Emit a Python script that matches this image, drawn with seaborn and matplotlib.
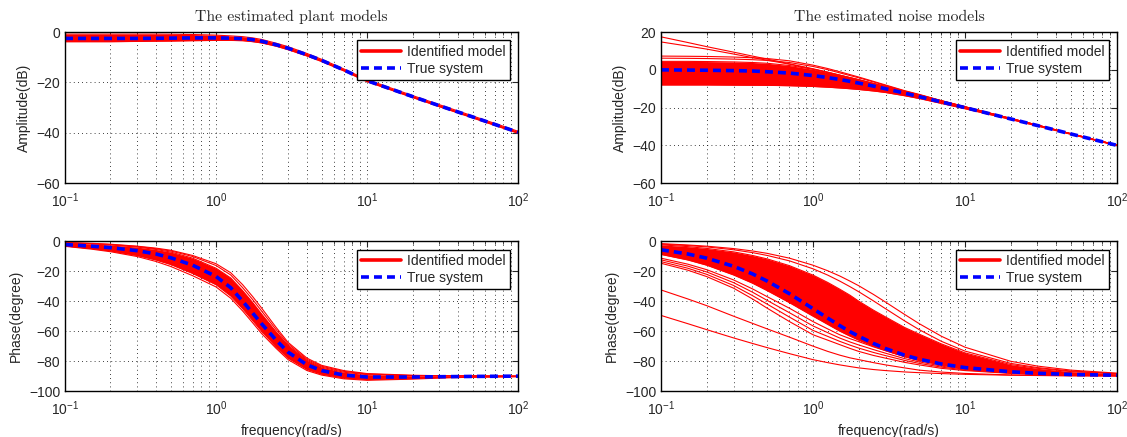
import numpy as np
import pandas as pd
import matplotlib
matplotlib.use("Agg")
import matplotlib.pyplot as plt
import seaborn as sns
from matplotlib.lines import Line2D

sns.set_style("white")
plt.rcParams['font.family'] = ['Liberation Sans', 'DejaVu Sans']
plt.rcParams['mathtext.fontset'] = 'custom'
plt.rcParams['mathtext.rm'] = 'Liberation Sans'
plt.rcParams['mathtext.it'] = 'Liberation Sans:italic'

freq = [0.1, 0.15, 0.2, 0.3, 0.4, 0.5, 0.7, 1, 1.25, 1.5, 1.75, 2, 2.5, 3, 4, 5, 7, 10, 20, 30, 50, 100]

#%% plant, amplitude (dB)
plant_mag_true = [-2.5, -2.5, -2.5, -2.5, -2.45, -2.4, -2.3, -2.3, -2.4, -2.6, -3.0, -3.6, -5.0, -6.4, -9.0, -11.2, -15.0, -19.3, -25.6, -29.2, -33.7, -39.8]
plant_mag_hi = [-0.8, -0.8, -0.8, -0.8, -0.8, -0.85, -0.95, -1.2, -1.5, -1.8, -2.3, -2.9, -4.4, -5.8, -8.5, -10.8, -14.6, -18.9, -25.2, -28.8, -33.3, -39.4]
plant_mag_lo = [-3.8, -3.8, -3.8, -3.7, -3.6, -3.55, -3.4, -3.3, -3.3, -3.4, -3.8, -4.3, -5.6, -7.0, -9.5, -11.7, -15.4, -19.7, -26.0, -29.6, -34.1, -40.2]

#%% plant, phase (degree)
plant_ph_true = [-2.2, -3.3, -4.3, -6.3, -8.5, -11.0, -16.0, -23.5, -31.0, -40.0, -48.0, -55.0, -66.0, -74.0, -82.5, -86.3, -89.3, -90.6, -90.6, -90.4, -90.2, -90.0]
plant_ph_hi = [-1.2, -1.8, -2.5, -3.9, -5.5, -7.2, -11.3, -18.0, -24.5, -33.0, -41.0, -48.5, -60.5, -69.5, -79.5, -84.0, -87.4, -89.0, -89.8, -89.9, -89.9, -90.0]
plant_ph_lo = [-3.2, -4.9, -6.5, -9.5, -12.5, -15.5, -21.5, -29.0, -36.5, -45.0, -53.0, -60.0, -70.5, -78.0, -85.5, -88.7, -91.2, -92.3, -91.6, -91.0, -90.6, -90.3]
plant_ph_top1 = [-0.9, -1.4, -2.0, -3.3, -4.6, -6.0, -9.5, -15.0, -21.0, -29.0, -37.0, -44.5, -57.5, -67.5, -78.0, -82.8, -86.3, -88.3, -89.4, -89.7, -89.8, -90.0]
plant_ph_top2 = [-1.0, -1.6, -2.2, -3.5, -5.0, -6.5, -10.2, -16.2, -22.5, -31.0, -39.0, -46.5, -59.0, -68.5, -78.8, -83.4, -86.8, -88.6, -89.6, -89.8, -89.9, -90.0]
plant_ph_bot1 = [-3.4, -5.3, -7.0, -10.2, -13.5, -16.8, -23.0, -30.5, -38.0, -46.5, -54.5, -61.5, -71.5, -79.0, -86.3, -89.3, -91.8, -92.8, -92.0, -91.3, -90.7, -90.3]

#%% noise, amplitude (dB)
noise_mag_true = [0.0, -0.1, -0.2, -0.4, -0.6, -1.0, -1.7, -3.0, -4.1, -5.1, -6.1, -7.0, -8.6, -10.0, -12.3, -14.2, -17.0, -20.0, -26.0, -29.5, -34.0, -40.0]
noise_mag_hi = [4.5, 4.5, 4.4, 4.2, 3.9, 3.5, 2.3, 0.3, -1.3, -2.8, -4.1, -5.2, -7.2, -8.8, -11.4, -13.4, -16.5, -19.6, -25.8, -29.3, -33.9, -39.9]
noise_mag_lo = [-8.0, -8.0, -8.0, -8.1, -8.15, -8.2, -8.4, -8.8, -9.2, -9.6, -10.0, -10.4, -11.2, -12.0, -13.7, -15.2, -17.8, -20.6, -26.3, -29.8, -34.2, -40.2]
noise_mag_g1 = [7.3, 7.2, 7.1, 6.8, 6.4, 6.0, 4.8, 2.5, 0.7, -1.0, -2.5, -3.8, -6.1, -8.0, -11.0, -13.0, -16.3, -19.5, -25.7, -29.3, -33.9, -39.9]
noise_mag_g2 = [6.2, 6.1, 6.0, 5.7, 5.4, 5.0, 3.9, 1.8, 0.1, -1.6, -3.0, -4.2, -6.4, -8.3, -11.2, -13.2, -16.4, -19.6, -25.8, -29.3, -33.9, -39.9]
noise_mag_o1 = [17.5, 14.5, 12.3, 9.4, 7.3, 5.7, 3.2, 0.6, -1.2, -2.8, -4.1, -5.2, -7.2, -8.8, -11.4, -13.3, -16.4, -19.6, -25.8, -29.3, -33.9, -39.9]
noise_mag_o2 = [14.8, 12.6, 11.0, 8.4, 6.5, 5.1, 3.0, 0.4, -1.4, -2.9, -4.2, -5.3, -7.3, -8.9, -11.5, -13.4, -16.5, -19.6, -25.8, -29.3, -33.9, -39.9]

#%% noise, phase (degree)
noise_ph_true = [-5.7, -8.5, -11.3, -16.7, -21.8, -26.6, -35.0, -45.0, -51.3, -56.3, -60.3, -63.4, -68.2, -71.6, -76.0, -78.7, -81.9, -84.3, -87.1, -88.1, -88.9, -89.4]
noise_ph_hi = [-2.4, -3.6, -4.8, -7.1, -9.5, -11.8, -16.3, -22.6, -27.5, -32.0, -36.0, -40.0, -46.0, -50.5, -57.5, -62.0, -68.5, -74.5, -82.3, -84.8, -87.0, -88.5]
noise_ph_lo = [-8.8, -12.5, -16.0, -22.5, -28.0, -33.0, -41.0, -50.0, -55.5, -60.0, -63.3, -66.0, -70.0, -73.0, -77.0, -79.5, -82.5, -85.0, -87.6, -88.4, -89.0, -89.5]
noise_ph_t1 = [-1.6, -2.5, -3.3, -4.9, -6.5, -8.1, -11.3, -16.0, -19.7, -23.2, -26.6, -29.7, -35.5, -40.6, -48.8, -55.0, -63.4, -70.7, -80.1, -83.3, -86.0, -88.0]
noise_ph_t2 = [-1.9, -2.9, -3.8, -5.7, -7.6, -9.5, -13.1, -18.4, -22.6, -26.6, -30.3, -33.7, -39.8, -45.0, -53.1, -59.0, -66.8, -73.3, -81.5, -84.3, -86.6, -88.3]
noise_ph_l1 = [-11.3, -15.3, -19.0, -25.8, -31.8, -37.0, -44.7, -53.6, -58.5, -62.4, -65.0, -67.0, -70.5, -73.0, -77.0, -79.5, -82.5, -85.0, -87.5, -88.4, -89.0, -89.5]
noise_ph_l2 = [-12.4, -16.6, -20.5, -27.6, -34.0, -39.5, -47.7, -56.5, -61.0, -64.6, -67.2, -69.2, -72.3, -74.7, -78.3, -80.5, -83.3, -85.5, -87.8, -88.6, -89.1, -89.6]
noise_ph_l3 = [-13.6, -18.0, -22.1, -29.5, -36.3, -42.0, -50.6, -59.5, -63.5, -66.8, -69.3, -71.3, -74.2, -76.3, -79.5, -81.5, -84.0, -85.9, -88.0, -88.7, -89.2, -89.6]
noise_ph_l4 = [-14.7, -19.3, -23.6, -31.3, -38.5, -44.7, -53.6, -62.4, -66.0, -69.0, -71.5, -73.5, -76.2, -78.0, -80.8, -82.5, -84.8, -86.3, -88.2, -88.9, -89.3, -89.7]
noise_ph_p1 = [-32.5, -38.5, -43.0, -50.0, -54.8, -58.5, -64.0, -70.0, -73.5, -76.0, -77.8, -79.0, -81.0, -82.5, -84.5, -86.0, -87.3, -88.2, -89.2, -89.5, -89.7, -89.9]
noise_ph_p2 = [-49.5, -55.0, -59.0, -64.5, -68.2, -71.0, -75.0, -79.0, -81.0, -82.5, -83.6, -84.5, -85.6, -86.3, -87.2, -87.7, -88.3, -88.8, -89.4, -89.6, -89.8, -89.9]


def to_long(curves):
    rows = []
    for name, vals in curves.items():
        for f, v in zip(freq, vals):
            rows.append((name, f, v))
    return pd.DataFrame(rows, columns=['curve', 'freq', 'value'])


def draw(ax, curves, lo, hi, true_vals, ylim, yticks, ylabel):
    ax.set_xscale('log')
    ax.fill_between(freq, lo, hi, color='red', lw=0)
    df = to_long(curves)
    sns.lineplot(data=df, x='freq', y='value', units='curve', estimator=None,
                 color='red', linewidth=0.8, ax=ax, legend=False)
    sns.lineplot(x=freq, y=true_vals, color='blue', linewidth=2.6,
                 linestyle=(0, (2.2, 1.4)), ax=ax)
    ax.set_xlim(0.1, 100)
    ax.set_ylim(*ylim)
    ax.set_yticks(yticks)
    ax.set_ylabel(ylabel, fontsize=10)
    ax.set_xlabel('')
    ax.grid(True, which='major', ls=(0, (1, 4)), color='k', lw=0.6)
    ax.grid(True, which='minor', axis='x', ls=(0, (1, 4)), color='k', lw=0.6)
    ax.tick_params(which='both', direction='in', top=True, right=True, labelsize=10)
    ax.tick_params(which='major', length=4)
    ax.tick_params(which='minor', length=2)
    ax.tick_params(axis='x', which='major', pad=6)
    for s in ax.spines.values():
        s.set_color('k')
        s.set_linewidth(1.0)
    handles = [Line2D([], [], color='red', lw=2.6),
               Line2D([], [], color='blue', lw=2.6, ls=(0, (2.2, 1.4)))]
    leg = ax.legend(handles, ['Identified model', 'True system'], loc='upper right',
                    fontsize=10, fancybox=False, framealpha=1, edgecolor='k',
                    handlelength=2.9, borderaxespad=0.6, borderpad=0.3,
                    labelspacing=0.25, handletextpad=0.4)
    leg.get_frame().set_linewidth(1.0)


fig = plt.figure(figsize=(11.27, 4.37), dpi=100)
ax1 = fig.add_axes([0.0577, 0.581, 0.402, 0.3455])
ax2 = fig.add_axes([0.5865, 0.581, 0.4046, 0.3455])
ax3 = fig.add_axes([0.0577, 0.105, 0.402, 0.343])
ax4 = fig.add_axes([0.5865, 0.105, 0.4046, 0.343])

draw(ax1, {'hi': plant_mag_hi, 'lo': plant_mag_lo}, plant_mag_lo, plant_mag_hi,
     plant_mag_true, (-60, 0), [-60, -40, -20, 0], 'Amplitude(dB)')
draw(ax2, {'hi': noise_mag_hi, 'lo': noise_mag_lo, 'g1': noise_mag_g1, 'g2': noise_mag_g2,
           'o1': noise_mag_o1, 'o2': noise_mag_o2},
     noise_mag_lo, noise_mag_hi, noise_mag_true, (-60, 20), [-60, -40, -20, 0, 20], 'Amplitude(dB)')
draw(ax3, {'hi': plant_ph_hi, 'lo': plant_ph_lo, 't1': plant_ph_top1, 't2': plant_ph_top2,
           'b1': plant_ph_bot1},
     plant_ph_lo, plant_ph_hi, plant_ph_true, (-100, 0), [-100, -80, -60, -40, -20, 0], 'Phase(degree)')
draw(ax4, {'hi': noise_ph_hi, 'lo': noise_ph_lo, 't1': noise_ph_t1, 't2': noise_ph_t2,
           'l1': noise_ph_l1, 'l2': noise_ph_l2, 'l3': noise_ph_l3, 'l4': noise_ph_l4,
           'p1': noise_ph_p1, 'p2': noise_ph_p2},
     noise_ph_lo, noise_ph_hi, noise_ph_true, (-100, 0), [-100, -80, -60, -40, -20, 0], 'Phase(degree)')

ax3.set_xlabel('frequency(rad/s)', fontsize=10)
ax4.set_xlabel('frequency(rad/s)', fontsize=10)
ax1.set_title('The estimated plant models', fontfamily='cmr10', fontsize=11.3, pad=8)
ax2.set_title('The estimated noise models', fontfamily='cmr10', fontsize=11.3, pad=8)

fig.savefig('out.png', dpi=100)
